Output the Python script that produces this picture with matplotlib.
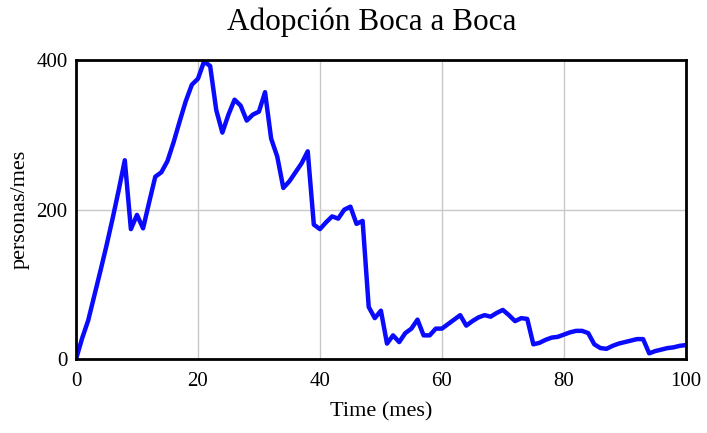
import numpy as np
import matplotlib
matplotlib.use("Agg")
import matplotlib.pyplot as plt

plt.rcParams['font.family'] = ['Liberation Serif', 'DejaVu Serif']

# months and adoption rate (personas/mes)
months = np.arange(0, 101)
adopcion = [
    0, 28, 52, 85, 118, 152, 188, 226, 266, 174,
    193, 175, 210, 244, 250, 265, 290, 318, 345, 367,
    375, 398, 392, 333, 303, 327, 347, 339, 319, 327,
    331, 357, 295, 271, 229, 238, 250, 262, 278, 180,
    174, 183, 191, 188, 200, 204, 181, 185, 70, 55,
    65, 21, 32, 23, 35, 41, 53, 32, 32, 41,
    41, 47, 53, 59, 45, 51, 56, 59, 57, 62,
    66, 59, 51, 55, 54, 20, 22, 26, 29, 30,
    33, 36, 38, 38, 35, 20, 15, 14, 18, 21,
    23, 25, 27, 27, 8, 11, 13, 15, 16, 18,
    19,
]
xticks = [0, 20, 40, 60, 80, 100]
yticks = [0, 200, 400]

fig = plt.figure(figsize=(7.07, 4.33), dpi=100)
ax = fig.add_axes([0.1075, 0.1702, 0.8625, 0.6912])

ax.plot(months, adopcion, color='#0a0aff', linewidth=3.2, solid_joinstyle='round')

ax.set_xlim(0, 100)
ax.set_ylim(0, 400)
ax.set_xticks(xticks)
ax.set_yticks(yticks)
ax.grid(True, color='#c8c8c8', linewidth=1)
ax.tick_params(length=0, labelsize=15, pad=6)
ax.tick_params(axis='x', pad=9)
for s in ax.spines.values():
    s.set_linewidth(2)
    s.set_color('black')

ax.set_xlabel('Time (mes)', fontsize=16)
ax.set_ylabel('personas/mes', fontsize=16)
ax.xaxis.set_label_coords(0.5, -0.176)
ax.yaxis.set_label_coords(-0.092, 0.5)
ax.xaxis.label.set_va('center')
ax.yaxis.label.set_va('center')
fig.text(372 / 707, 1 - 22 / 433, 'Adopción Boca a Boca', fontsize=22.5,
         ha='center', va='center')

fig.savefig('out.png', dpi=100)
